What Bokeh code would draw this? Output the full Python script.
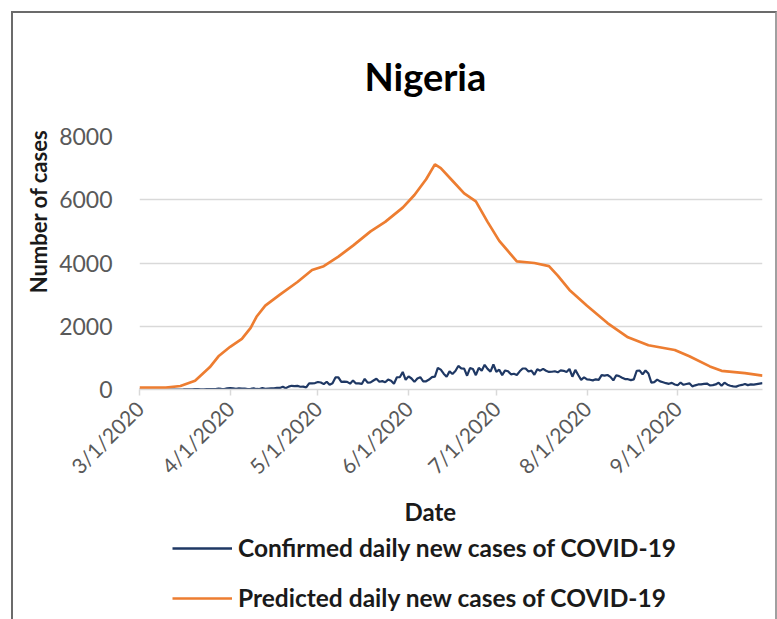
import math
import pandas as pd
from bokeh.plotting import figure
from bokeh.layouts import column
from bokeh.models import (FixedTicker, CustomJSTickFormatter, Legend, LegendItem,
                          Title, Range1d, ColumnDataSource)
from bokeh.embed import file_html
from bokeh.resources import INLINE

# ---------------- data ----------------
confirmed_mar = [0, 0, 0, 0, 0, 0, 0, 1, 0, 0, 0, 0, 0, 0, 0, 1, 5, 4, 4, 10,
                 10, 8, 4, 10, 14, 14, 16, 27, 17, 10, 35]
confirmed_apr = [45, 35, 20, 40, 26, 30, 16, 22, 34, 17, 13, 44, 20, 30, 34, 35, 51, 49, 86, 38,
                 91, 117, 108, 114, 87, 91, 64, 195, 196, 204]
confirmed_may = [238, 220, 170, 245, 148, 195, 381, 386, 239, 248, 242, 184, 288, 192, 193, 176, 338, 216, 226, 284,
                 339, 245, 265, 229, 313, 276, 182, 387, 389, 553, 307]
confirmed_jun = [416, 348, 241, 350, 389, 260, 260, 315, 389, 409, 681, 627, 501, 403, 573, 490, 587, 745, 667, 661,
                 436, 675, 649, 452, 684, 596, 779, 652, 566, 790]
confirmed_jul = [561, 626, 454, 603, 575, 480, 499, 460, 575, 664, 664, 571, 595, 463, 643, 595, 653, 593, 556, 562,
                 576, 543, 604, 591, 555, 648, 404, 620, 458, 304, 386]
confirmed_aug = [318, 310, 288, 322, 304, 453, 437, 460, 400, 288, 453, 423, 373, 329, 325, 298, 321, 593, 597, 476,
                 601, 505, 217, 234, 313, 255, 230, 200, 180, 210, 160]
confirmed_sep = [136, 220, 150, 174, 195, 100, 132, 160, 162, 176, 188, 130, 138, 160, 216, 116, 216, 151, 118, 100,
                 91, 125, 144, 176, 139, 160, 153, 170, 186, 200]
confirmed = (confirmed_mar + confirmed_apr + confirmed_may + confirmed_jun +
             confirmed_jul + confirmed_aug + confirmed_sep)
confirmed_dates = pd.date_range("2020-03-01", periods=len(confirmed), freq="D")

predicted_dates = ["2020-03-01", "2020-03-10", "2020-03-15", "2020-03-20", "2020-03-25", "2020-03-28",
                   "2020-04-01", "2020-04-05", "2020-04-08", "2020-04-10", "2020-04-13", "2020-04-18",
                   "2020-04-24", "2020-04-29", "2020-05-03", "2020-05-08", "2020-05-13", "2020-05-19",
                   "2020-05-24", "2020-05-30", "2020-06-03", "2020-06-07", "2020-06-10", "2020-06-12",
                   "2020-06-16", "2020-06-20", "2020-06-24", "2020-06-28", "2020-07-02", "2020-07-08",
                   "2020-07-14", "2020-07-19", "2020-07-22", "2020-07-26", "2020-08-01", "2020-08-08",
                   "2020-08-15", "2020-08-22", "2020-08-31", "2020-09-05", "2020-09-12", "2020-09-16",
                   "2020-09-24", "2020-09-30"]
predicted_values = [60, 60, 110, 280, 700, 1050,
                    1350, 1600, 1950, 2300, 2650, 3000,
                    3400, 3780, 3900, 4200, 4550, 5000,
                    5300, 5750, 6150, 6650, 7120, 7000,
                    6600, 6200, 5950, 5300, 4700, 4050,
                    4000, 3900, 3600, 3150, 2650, 2100,
                    1650, 1400, 1250, 1050, 730, 590,
                    520, 440]

x_tick_dates = ["2020-03-01", "2020-04-01", "2020-05-01", "2020-06-01",
                "2020-07-01", "2020-08-01", "2020-09-01"]
y_ticks = [0, 2000, 4000, 6000, 8000]

chart_title = "Nigeria"
x_title = "Date"
y_title = "Number of cases"
series_names = ["Confirmed daily new cases of COVID-19", "Predicted daily new cases of COVID-19"]
series_colors = ["#1f3864", "#ed7d31"]

FONT = "Lato"
BORDER = "2px solid #6b6b6b"
BORDER_R = "2px solid #a0a0a0"
W = 766

# ---------------- main figure ----------------
p = figure(width=W, height=520, x_axis_type="datetime",
           output_backend="svg", toolbar_location=None,
           x_range=Range1d(pd.Timestamp("2020-03-01"), pd.Timestamp("2020-09-30")),
           y_range=Range1d(0, 8000),
           min_border_left=126, min_border_right=17,
           min_border_top=123, min_border_bottom=140)
p.margin = (11, 0, 0, 11)
p.styles = {"border-top": BORDER, "border-left": BORDER, "border-right": BORDER_R}
p.outline_line_color = None
p.background_fill_color = "white"
p.border_fill_color = "white"

# title
p.title.text = chart_title
p.title.align = "left"
p.title.offset = 225
p.title.vertical_align = "middle"
p.title.text_font = FONT
p.title.text_font_size = "38px"
p.title.text_font_style = "bold"
p.title.text_color = "#000000"
p.title.standoff = 73

# series
src_c = ColumnDataSource(dict(x=confirmed_dates, y=confirmed))
src_p = ColumnDataSource(dict(x=pd.to_datetime(predicted_dates), y=predicted_values))
r1 = p.line("x", "y", source=src_c, line_color=series_colors[0], line_width=2.2)
r2 = p.line("x", "y", source=src_p, line_color=series_colors[1], line_width=2.7)

# y axis
p.yaxis.ticker = FixedTicker(ticks=y_ticks)
p.yaxis.axis_line_color = None
p.yaxis.major_tick_line_color = None
p.yaxis.major_tick_out = 0
p.yaxis.major_tick_in = 0
p.yaxis.minor_tick_line_color = None
p.yaxis.minor_tick_out = 0
p.yaxis.major_label_standoff = 27
p.yaxis.major_label_text_font = FONT
p.yaxis.major_label_text_font_size = "23px"
p.yaxis.major_label_text_color = "#595959"

ylab = Title(text=y_title, align="right", offset=-7, text_font=FONT,
             text_font_size="22px", text_font_style="bold", text_color="#1a1a1a",
             standoff=10)
p.add_layout(ylab, "left")

# x axis
tick_ms = [pd.Timestamp(d).value // 10**6 for d in x_tick_dates]
p.xaxis.ticker = FixedTicker(ticks=tick_ms)
p.xaxis.formatter = CustomJSTickFormatter(code="""
const d = new Date(tick);
return (d.getUTCMonth() + 1) + "/" + d.getUTCDate() + "/" + d.getUTCFullYear();
""")
p.xaxis.major_label_orientation = math.pi / 4
p.xaxis.axis_line_color = "#d9d9d9"
p.xaxis.axis_line_width = 1.5
p.xaxis.major_tick_line_color = "#d9d9d9"
p.xaxis.major_tick_line_width = 1.5
p.xaxis.major_tick_out = 6
p.xaxis.major_tick_in = 0
p.xaxis.minor_tick_line_color = None
p.xaxis.major_label_text_font = FONT
p.xaxis.major_label_text_font_size = "21px"
p.xaxis.major_label_text_color = "#595959"
p.xaxis.major_label_standoff = 9

xlab = Title(text=x_title, align="left", offset=265, vertical_align="top",
             text_font=FONT, text_font_size="24px", text_font_style="bold",
             text_color="#1a1a1a", standoff=12)
p.add_layout(xlab, "below")

# grid
p.xgrid.visible = False
p.ygrid.grid_line_color = "#d9d9d9"
p.ygrid.grid_line_width = 1.5

# ---------------- legend strip (bottom part of the chart area) ----------------
lf = figure(width=W, height=89, output_backend="svg", toolbar_location=None,
            x_axis_location=None, y_axis_location=None,
            x_range=p.x_range, y_range=Range1d(-3, -2),
            min_border_left=126, min_border_right=17,
            min_border_top=0, min_border_bottom=0)
lf.margin = (0, 0, 0, 11)
lf.styles = {"border-left": BORDER, "border-right": BORDER_R}
lf.outline_line_color = None
lf.grid.visible = False
lf.background_fill_color = "white"
lf.border_fill_color = "white"
# the same series (out of this strip's view) provide the legend keys
k1 = lf.line("x", "y", source=src_c, line_color=series_colors[0], line_width=2.6)
k2 = lf.line("x", "y", source=src_p, line_color=series_colors[1], line_width=2.6)

legend = Legend(items=[LegendItem(label=series_names[0], renderers=[k1]),
                       LegendItem(label=series_names[1], renderers=[k2])],
                orientation="vertical", location=(33, 8),
                label_text_font=FONT, label_text_font_style="bold",
                label_text_font_size="24.5px", label_text_color="#1a1a1a",
                glyph_width=60, glyph_height=24, label_height=24,
                spacing=21, padding=0, margin=0, label_standoff=6,
                border_line_color=None, background_fill_alpha=0)
lf.add_layout(legend, "center")

layout = column(p, lf, spacing=0)
open("out.html", "w").write(file_html(layout, INLINE))
